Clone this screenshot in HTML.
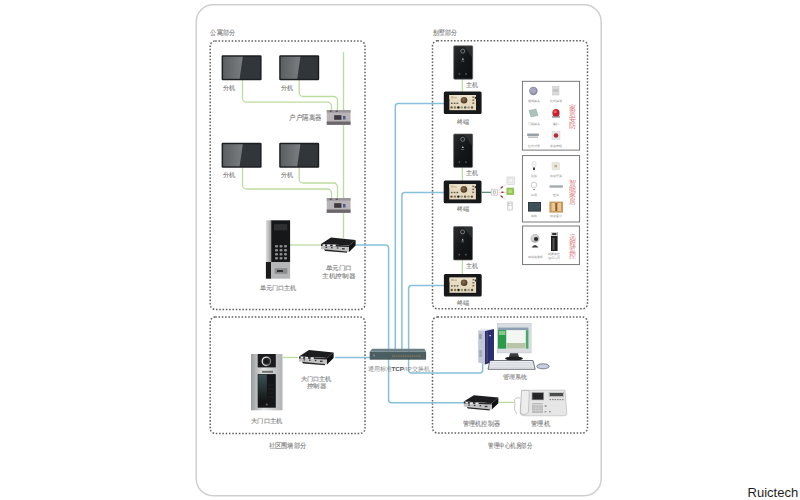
<!DOCTYPE html>
<html><head><meta charset="utf-8">
<style>
html,body{margin:0;padding:0;background:#fff;width:800px;height:500px;overflow:hidden}
svg{position:absolute;left:0;top:0}
text{font-family:"Liberation Sans",sans-serif}
.lb{font-size:6.3px;fill:#747474;stroke:#8a8a8a;stroke-width:0.1px}
.rt{position:absolute;left:747.6px;top:484.8px;font-family:"Liberation Sans",sans-serif;font-size:13px;color:#1e1e1e}
</style></head><body>
<svg width="800" height="500" viewBox="0 0 800 500">
<defs>
  <linearGradient id="scr" x1="0" y1="0" x2="1" y2="0">
    <stop offset="0" stop-color="#5a5f62"/><stop offset="1" stop-color="#7a7e80"/>
  </linearGradient>

  <symbol id="mon" viewBox="0 0 40 25" overflow="visible">
    <rect x="0" y="0" width="40" height="25" rx="1.2" fill="#1c1f21"/>
    <rect x="1.5" y="1.5" width="37" height="22" fill="#30363a"/>
    <path d="M1.5 1.5 H21.2 L18 23.5 H1.5 Z" fill="url(#scr)"/>
  </symbol>

  <linearGradient id="silv" x1="0" y1="0" x2="1" y2="0">
    <stop offset="0" stop-color="#9a9c9e"/><stop offset="0.4" stop-color="#e2e4e6"/><stop offset="0.75" stop-color="#c4c6c8"/><stop offset="1" stop-color="#b0b2b4"/>
  </linearGradient>
  <linearGradient id="silv2" x1="0" y1="0" x2="1" y2="0">
    <stop offset="0" stop-color="#e0e0e0"/><stop offset="1" stop-color="#9a9a9a"/>
  </linearGradient>
  <symbol id="iso" viewBox="0 0 24 15" overflow="visible">
    <rect x="0" y="0" width="23.8" height="14.8" fill="#b8b4b8"/>
    <rect x="0" y="0" width="23.8" height="2.6" fill="#9a969a"/>
    <rect x="0" y="11.5" width="23.8" height="3.3" fill="#6a666a"/>
    <rect x="7.4" y="5.2" width="7.3" height="4.6" fill="#3c3a40"/>
    <rect x="16.2" y="6" width="2.6" height="3.5" fill="#5a5a92"/>
    <rect x="3" y="0.6" width="2" height="1.4" fill="#5a565a"/>
    <rect x="9" y="0.6" width="2" height="1.4" fill="#5a565a"/>
  </symbol>
  <symbol id="ctl" viewBox="0 0 35 15" overflow="visible">
    <polygon points="0,6.4 10,0 34.6,2.4 28,8" fill="#1c1c1e"/>
    <polygon points="28,8 34.6,2.4 34.6,8 28,14.4" fill="#111113"/>
    <polygon points="0,6.4 28,8 28,14.4 0,11.4" fill="#c2c2c4"/>
    <polygon points="0,6.4 28,8 28,9.4 0,8.4" fill="#2a2a2c"/>
    <polygon points="3,11.8 26,14 26,15.2 4,13.4" fill="#2a2a2a"/>
    <g fill="#e8e8e8">
      <rect x="1.6" y="6.7" width="2.6" height="1.7" rx="0.5"/>
      <rect x="6" y="7" width="3.2" height="1.8" rx="0.5"/>
      <rect x="11.6" y="7.3" width="3.2" height="1.8" rx="0.5"/>
    </g>
    <g fill="#3a3a3a">
      <rect x="4.5" y="9.3" width="1.6" height="1.2"/>
      <rect x="10" y="9.6" width="1.6" height="1.2"/>
      <rect x="15.8" y="9.9" width="1.6" height="1.2"/>
      <rect x="21" y="10.6" width="2.6" height="1.4"/>
    </g>
  </symbol>

  <linearGradient id="vh" x1="0" y1="0" x2="1" y2="1">
    <stop offset="0" stop-color="#2a2c2e"/><stop offset="0.5" stop-color="#151617"/><stop offset="1" stop-color="#0e0f10"/>
  </linearGradient>
  <radialGradient id="brn" cx="0.4" cy="0.4" r="0.6">
    <stop offset="0" stop-color="#8a7050"/><stop offset="1" stop-color="#4a3a26"/>
  </radialGradient>
  <symbol id="vhost" viewBox="0 0 19 33.4" overflow="visible">
    <rect x="0" y="0" width="19" height="33.4" rx="1" fill="url(#vh)" stroke="#6a6c6e" stroke-width="0.7"/>
    <path d="M10 0.3 H18.7 V12 Z" fill="#3a3d40" opacity="0.6"/>
    <circle cx="9.1" cy="5.3" r="2" fill="none" stroke="#8a8c8e" stroke-width="0.8"/>
    <path d="M8.2 14 l1 -2 l1 2 z" fill="#cfcfcf"/>
    <rect x="7.6" y="15" width="3" height="0.6" fill="#888"/>
    <circle cx="5.8" cy="28.1" r="0.9" fill="#555"/>
    <circle cx="12.3" cy="28.1" r="0.9" fill="#555"/>
  </symbol>
  <symbol id="term" viewBox="0 0 37.8 22.6" overflow="visible">
    <rect x="0" y="0" width="37.8" height="22.6" rx="1.5" fill="#161819"/>
    <rect x="5.6" y="3.6" width="26.6" height="15.2" fill="#e6dac0"/>
    <rect x="5.6" y="3.6" width="26.6" height="4" fill="#ece2cc"/>
    <circle cx="20.2" cy="8.8" r="3.3" fill="url(#brn)"/>
    <g fill="#c8b494"><rect x="7" y="5" width="3" height="2"/><rect x="10.5" y="5.5" width="2.5" height="1.5"/></g>
    <g fill="#5a5448"><rect x="7.2" y="11.2" width="1.6" height="1.4"/><rect x="10" y="11.2" width="1.6" height="1.4"/><rect x="12.8" y="11.2" width="1.6" height="1.4"/></g>
    <g fill="#7a6a50"><rect x="28.6" y="5" width="1.8" height="1.5"/><rect x="28.6" y="8" width="1.8" height="1.5"/><rect x="28.6" y="11" width="1.8" height="1.5"/></g>
    <rect x="31" y="5.5" width="1.2" height="2" fill="#222"/>
    <circle cx="7.8" cy="16" r="1.2" fill="#6a5a40"/>
    <circle cx="11.2" cy="16" r="1.2" fill="#8a7050"/>
    <circle cx="14.6" cy="16" r="1.2" fill="#1e1a14"/>
    <circle cx="18" cy="16" r="1.2" fill="#8a9a70"/>
    <circle cx="21.4" cy="16" r="1.2" fill="#5a5a48"/>
    <circle cx="24.8" cy="16" r="1.2" fill="#9a9488"/>
    <circle cx="28.2" cy="16" r="1.2" fill="#6a5038"/>
  </symbol>
  <linearGradient id="disp" x1="0" y1="0" x2="0" y2="1">
    <stop offset="0" stop-color="#3c5056"/><stop offset="0.6" stop-color="#24302f"/><stop offset="1" stop-color="#151617"/>
  </linearGradient>
  <linearGradient id="ring" x1="0" y1="0" x2="1" y2="0.3">
    <stop offset="0" stop-color="#f0f0f0"/><stop offset="0.55" stop-color="#d8d8d8"/><stop offset="1" stop-color="#707070"/>
  </linearGradient>
</defs>
<!-- outer -->
<rect x="196.2" y="4.8" width="405" height="491" rx="17" fill="none" stroke="#cfcfcf" stroke-width="1.5"/>

<!-- dotted boxes -->
<g fill="none" stroke="#606060" stroke-width="1.5" stroke-dasharray="1.55 1.75">
  <rect x="210.2" y="41" width="154.8" height="268.4" rx="5"/>
  <rect x="210.2" y="317" width="154.8" height="116.4" rx="5"/>
  <rect x="432.5" y="40.8" width="155" height="268" rx="5"/>
  <rect x="432.5" y="317" width="155" height="116" rx="5"/>
</g>

<!-- labels -->

<!-- green lines -->
<g fill="none" stroke="#bcdb9e" stroke-width="1.3">
  <line x1="343.5" y1="52" x2="343.5" y2="238"/>
  <path d="M242.5 80 V98.2 a4 4 0 0 0 4 4 H327.5 a4 4 0 0 1 4 4 V111"/>
  <path d="M299.2 80 V92.5 a4 4 0 0 0 4 4 H333.5 a4 4 0 0 1 4 4 V111"/>
  <path d="M242.5 168 V185 a4 4 0 0 0 4 4 H327.5 a4 4 0 0 1 4 4 V199"/>
  <path d="M299.2 168 V179 a4 4 0 0 0 4 4 H333.5 a4 4 0 0 1 4 4 V199"/>
  <line x1="290" y1="245" x2="322" y2="245"/>
  <line x1="283" y1="357.5" x2="298" y2="357.5"/>
  <line x1="462.4" y1="79" x2="462.4" y2="92"/>
  <line x1="462.4" y1="167" x2="462.4" y2="181"/>
  <line x1="462.4" y1="259.6" x2="462.4" y2="274"/>
  <line x1="499" y1="402.4" x2="514" y2="402.4"/>
</g>

<!-- blue lines -->
<g fill="none" stroke="#86c0da" stroke-width="1.5">
  <path d="M356 245 H385.6 a3 3 0 0 1 3 3 V399.8 a3 3 0 0 0 3 3 H464"/>
  <path d="M395.3 349 V106.5 a3 3 0 0 1 3 -3 H444"/>
  <path d="M401.9 349 V195.4 a3 3 0 0 1 3 -3 H444"/>
  <path d="M408.6 349 V370 a3 3 0 0 0 3 3 H479.7 a3 3 0 0 0 3 -3 V364"/>
  <path d="M408.6 349 V288.6 a3 3 0 0 1 3 -3 H444"/>
  <line x1="335" y1="357.5" x2="370" y2="357.5"/>
</g>


<!-- labels -->
<g class="lb">
<text x="210.4" y="35.3" textLength="24.60" lengthAdjust="spacingAndGlyphs" style="font-size:7px">公寓部分</text>
<text x="433.1" y="35.4" textLength="24.00" lengthAdjust="spacingAndGlyphs" style="font-size:7px">别墅部分</text>
<text x="222.5" y="89.8" textLength="12.40" lengthAdjust="spacingAndGlyphs" style="font-size:6px">分机</text>
<text x="281.2" y="89.8" textLength="12.30" lengthAdjust="spacingAndGlyphs" style="font-size:6px">分机</text>
<text x="222.5" y="177.3" textLength="12.40" lengthAdjust="spacingAndGlyphs" style="font-size:6px">分机</text>
<text x="281.2" y="177.3" textLength="12.30" lengthAdjust="spacingAndGlyphs" style="font-size:6px">分机</text>
<text x="289.4" y="119.6" textLength="31.85" lengthAdjust="spacingAndGlyphs" style="font-size:7px">户户隔离器</text>
<text x="259.7" y="290.0" textLength="36.80" lengthAdjust="spacingAndGlyphs" style="font-size:6px">单元门口主机</text>
<text x="325.7" y="270.1" textLength="26.30" lengthAdjust="spacingAndGlyphs" style="font-size:6px">单元门口</text>
<text x="322.0" y="277.6" textLength="33.70" lengthAdjust="spacingAndGlyphs" style="font-size:6px">主机控制器</text>
<text x="300.5" y="381.0" textLength="31.00" lengthAdjust="spacingAndGlyphs" style="font-size:6px">大门口主机</text>
<text x="306.7" y="387.9" textLength="19.30" lengthAdjust="spacingAndGlyphs" style="font-size:6px">控制器</text>
<text x="251.0" y="422.9" textLength="31.60" lengthAdjust="spacingAndGlyphs" style="font-size:6px">大门口主机</text>
<text x="268.6" y="447.8" textLength="37.50" lengthAdjust="spacingAndGlyphs" style="font-size:7px">社区围墙部分</text>
<text x="488.3" y="447.8" textLength="43.80" lengthAdjust="spacingAndGlyphs" style="font-size:7px">管理中心机房部分</text>
<text x="502.5" y="379.2" textLength="24.00" lengthAdjust="spacingAndGlyphs" style="font-size:6px">管理系统</text>
<text x="463.3" y="426.2" textLength="36.40" lengthAdjust="spacingAndGlyphs" style="font-size:7px">管理机控制器</text>
<text x="531.3" y="426.2" textLength="18.60" lengthAdjust="spacingAndGlyphs" style="font-size:7px">管理机</text>
<text x="466.0" y="86.5" textLength="12.00" lengthAdjust="spacingAndGlyphs" style="font-size:6px">主机</text>
<text x="466.0" y="174.5" textLength="12.00" lengthAdjust="spacingAndGlyphs" style="font-size:6px">主机</text>
<text x="466.0" y="267.5" textLength="12.00" lengthAdjust="spacingAndGlyphs" style="font-size:6px">主机</text>
<text x="457.0" y="123.6" textLength="12.50" lengthAdjust="spacingAndGlyphs" style="font-size:6px">终端</text>
<text x="457.0" y="211.0" textLength="12.50" lengthAdjust="spacingAndGlyphs" style="font-size:6px">终端</text>
<text x="457.0" y="305.0" textLength="12.50" lengthAdjust="spacingAndGlyphs" style="font-size:6px">终端</text>
</g>
<!-- monitors -->
<use href="#mon" x="221.6" y="55.3" width="40" height="25"/>
<use href="#mon" x="279.2" y="55.3" width="40" height="25"/>
<use href="#mon" x="221.6" y="142.8" width="40" height="25"/>
<use href="#mon" x="279.2" y="142.8" width="40" height="25"/>

<!-- isolators -->
<use href="#iso" x="326.75" y="110" width="24" height="15"/>
<use href="#iso" x="326.75" y="198" width="24" height="15"/>

<!-- unit door station -->
<g>
  <rect x="265.9" y="220.3" width="5.4" height="41.7" fill="url(#silv2)"/>
  <rect x="265.9" y="262" width="5.4" height="16.7" fill="#1a1a1a"/>
  <rect x="271.2" y="220.3" width="18.9" height="41.7" fill="#161718"/>
  <rect x="274" y="224.1" width="13.3" height="6.3" fill="#2e3032"/>
  <rect x="271.2" y="262" width="18.9" height="16.7" fill="#b4b6b8"/>
  <rect x="274.7" y="268.2" width="12.6" height="5.6" fill="#8a8c8e"/>
  <rect x="277" y="270" width="6" height="2" fill="#333"/>
  <g fill="#8a8a8a">
    <rect x="275" y="245" width="3" height="2.6" rx="1"/><rect x="279.5" y="245" width="3" height="2.6" rx="1"/><rect x="284" y="245" width="3" height="2.6" rx="1"/>
    <rect x="275" y="249" width="3" height="2.6" rx="1"/><rect x="279.5" y="249" width="3" height="2.6" rx="1"/><rect x="284" y="249" width="3" height="2.6" rx="1"/>
    <rect x="275" y="253" width="3" height="2.6" rx="1"/><rect x="279.5" y="253" width="3" height="2.6" rx="1"/><rect x="284" y="253" width="3" height="2.6" rx="1"/>
    <rect x="275" y="257" width="3" height="2.6" rx="1"/><rect x="279.5" y="257" width="3" height="2.6" rx="1"/><rect x="284" y="257" width="3" height="2.6" rx="1"/>
  </g>
</g>

<!-- controllers -->
<use href="#ctl" x="321" y="237.5" width="35" height="15"/>
<use href="#ctl" x="299" y="350" width="35" height="15"/>
<use href="#ctl" x="463.8" y="395.2" width="35" height="15"/>

<!-- gate station -->
<g>
  <rect x="251" y="354" width="31.5" height="56.3" fill="url(#silv)"/>
  <rect x="257.7" y="354" width="18.1" height="13.4" fill="#1c1c1e"/>
  <circle cx="266.4" cy="361.3" r="4.2" fill="#2a2c2e" stroke="url(#ring)" stroke-width="1.3"/>
  <circle cx="266.4" cy="361.2" r="2.2" fill="#1a1a1a"/>
  <rect x="262" y="370.8" width="11" height="2" fill="#707274"/>
  <rect x="257.7" y="374.1" width="18.1" height="33.6" fill="#151617"/>
  <rect x="258.3" y="374.6" width="8.5" height="26" fill="url(#disp)"/><g fill="#3a3c3e"><circle cx="269" cy="385" r="0.6"/><circle cx="272" cy="385" r="0.6"/><circle cx="269" cy="389" r="0.6"/><circle cx="272" cy="389" r="0.6"/><circle cx="269" cy="393" r="0.6"/><circle cx="272" cy="393" r="0.6"/><circle cx="269" cy="397" r="0.6"/><circle cx="272" cy="397" r="0.6"/></g>
  <circle cx="266.7" cy="404.5" r="1" fill="#666"/>
</g>

<!-- switch -->
<g>
  <polygon points="372.3,348.7 424.4,348.7 426.1,351.8 369.7,351.8" fill="#6a8086"/>
  <rect x="369.7" y="351.8" width="56.4" height="7.9" fill="#4a5e62"/>
  <line x1="392" y1="356.2" x2="421" y2="356.2" stroke="#7a7458" stroke-width="1.8" stroke-dasharray="1.2 0.6"/><rect x="373" y="354.5" width="2" height="2" fill="#7a868a"/>
</g>
<text x="398.6" y="370.8" text-anchor="middle" style="font-size:6.25px;fill:#8a8a8a">通用标准<tspan style="font-weight:bold;fill:#555">TCP</tspan>/IP交换机</text>

<!-- villa hosts + terminals -->
<use href="#vhost" x="453.7" y="45.8" width="19" height="33.4"/>
<use href="#vhost" x="453.6" y="134" width="19" height="33.4"/>
<use href="#vhost" x="453.5" y="226.6" width="19" height="33.4"/>
<use href="#term" x="443.8" y="91.4" width="37.8" height="22.6"/>
<use href="#term" x="443.7" y="180.6" width="37.8" height="22.6"/>
<use href="#term" x="443.9" y="274" width="37.8" height="22.6"/>

<!-- smart home relay -->
<line x1="481.6" y1="192.3" x2="491" y2="192.3" stroke="#3f7d55" stroke-width="1.1"/>
<rect x="491.2" y="189.2" width="6.4" height="6" fill="#f4f4f4" stroke="#b8b8b8" stroke-width="0.6"/>
<rect x="493.2" y="191" width="2.4" height="2.4" fill="none" stroke="#999" stroke-width="0.5"/>
<g stroke="#f0c4cc" stroke-width="0.9" fill="none">
  <line x1="498.5" y1="190.5" x2="505.5" y2="184.5"/>
  <line x1="498.5" y1="192.3" x2="506.5" y2="192.3"/>
  <line x1="498.5" y1="194" x2="505.5" y2="199.5"/>
</g>
<g fill="#8a3a48">
  <ellipse cx="501.8" cy="187.4" rx="1.4" ry="0.8" transform="rotate(-35 501.8 187.4)"/>
  <ellipse cx="502.4" cy="192.3" rx="1.4" ry="0.8"/>
  <ellipse cx="501.8" cy="196.6" rx="1.4" ry="0.8" transform="rotate(35 501.8 196.6)"/>
</g>
<rect x="507" y="177" width="7.3" height="7.3" fill="#f2f2f2" stroke="#c8c8c8" stroke-width="0.6"/>
<rect x="508.5" y="178.5" width="4.3" height="4.3" fill="none" stroke="#dadada" stroke-width="0.5"/>
<rect x="506.5" y="187.7" width="7.5" height="7.2" fill="#8fc450"/>
<rect x="508.3" y="189.5" width="3.8" height="3.5" fill="#b6dc80"/>
<rect x="507.8" y="202" width="4.4" height="8" fill="#fafafa" stroke="#b0b0b0" stroke-width="0.6"/>
<rect x="508.8" y="203.3" width="2.4" height="2.5" fill="none" stroke="#aaa" stroke-width="0.4"/>

<!-- side panels -->
<g fill="none" stroke="#6a6a6a" stroke-width="0.9">
  <rect x="522.4" y="81.3" width="57.2" height="68.8"/>
  <rect x="522.4" y="155.6" width="57.2" height="66.4"/>
  <rect x="522.6" y="226" width="56.8" height="38.6"/>
</g>
<g style="font-size:7px;fill:#d87878" text-anchor="middle">
  <text x="572.8" y="109.7">家</text><text x="572.8" y="115.9">居</text><text x="572.8" y="122.1">安</text><text x="572.8" y="128.3">防</text>
  <text x="572.8" y="184.6">智</text><text x="572.8" y="191">能</text><text x="572.8" y="197.4">家</text><text x="572.8" y="203.8">居</text>
  <text x="572.6" y="239.8">远</text><text x="572.6" y="246">程</text><text x="572.6" y="252.2">监</text><text x="572.6" y="258.4">控</text>
</g>
<g style="font-size:3.4px;fill:#8a8a8a" text-anchor="middle">
  <text x="533.5" y="102">烟感探头</text><text x="556" y="102">红外探测</text>
  <text x="533.5" y="124.5">门磁探头</text><text x="556" y="124.5">警灯</text>
  <text x="533.5" y="146.8">红外对射</text><text x="556" y="146.8">紧急按钮</text>
  <text x="534" y="176.5">照明</text><text x="556" y="176.5">电动开关</text>
  <text x="534" y="196">风扇</text><text x="556" y="196">空调</text>
  <text x="534" y="217.3">电视</text><text x="556" y="217.3">电动窗帘</text>
  <text x="535" y="257.5">网络摄像机</text>
</g>
<!-- security icons -->
<circle cx="533.4" cy="91" r="4.2" fill="#8a88a8"/>
<circle cx="533" cy="90.5" r="3" fill="#a8a6c0"/>
<rect x="552.5" y="86.5" width="6.5" height="8.5" fill="#dcdcdc" stroke="#bbb" stroke-width="0.4"/>
<rect x="553.2" y="89" width="5" height="3" fill="#c4c4c4"/>
<polygon points="529,110.5 536,109 538,115.5 531,117" fill="#a8c4bc" stroke="#8a9a98" stroke-width="0.4"/>
<ellipse cx="556" cy="113" rx="3.6" ry="4" fill="#c8202a"/>
<ellipse cx="555.2" cy="111.8" rx="1.6" ry="1.5" fill="#e86060"/>
<rect x="552" y="116.3" width="8" height="1.3" fill="#888"/>
<rect x="527" y="133.5" width="12" height="2.5" rx="1" fill="#9aa0a8"/>
<rect x="528" y="136.4" width="10" height="1.6" fill="#c0c4c8"/>
<rect x="552" y="131.5" width="8" height="8" fill="#e8e8e8" stroke="#ccc" stroke-width="0.4"/>
<circle cx="556" cy="135.5" r="2.3" fill="#b03038"/>
<!-- smart icons -->
<ellipse cx="534" cy="164.5" rx="2.2" ry="3.2" fill="#f2f2f2" stroke="#ccc" stroke-width="0.4"/>
<rect x="533" y="167.5" width="2" height="2.6" fill="#444"/>
<rect x="552" y="162.3" width="7.5" height="7.5" rx="1.2" fill="#ece8dc" stroke="#ccc" stroke-width="0.4"/>
<rect x="554.5" y="164.8" width="2.5" height="2.5" fill="#b8ad90"/>
<circle cx="534" cy="185" r="2.8" fill="none" stroke="#aaa" stroke-width="0.6"/>
<rect x="533" y="189.2" width="2" height="0.8" fill="#777"/>
<rect x="549.4" y="185.2" width="13.6" height="2.6" rx="0.8" fill="#a8aeb4"/>
<rect x="528" y="202" width="13" height="9.6" fill="#2c3a42"/>
<rect x="529" y="203" width="11" height="7.6" fill="#405058"/>
<rect x="549.4" y="201.6" width="13.6" height="11" fill="#c89860"/>
<rect x="551.5" y="203" width="9.5" height="8" fill="#e8c890"/>
<rect x="555.3" y="203" width="2" height="8" fill="#8a5a30"/>
<!-- remote -->
<path d="M531.5 247.5 q3.5 -5 7 0 z" fill="#3a3a3a"/>
<circle cx="535" cy="238.5" r="4.4" fill="#b4b4b4"/>
<circle cx="534.4" cy="237.6" r="3.2" fill="#d4d4d4"/>
<circle cx="536" cy="239" r="2.1" fill="#2a2a2a"/>
<rect x="551" y="232" width="6.6" height="19" fill="#1e1e1e"/>
<rect x="551" y="232" width="6.6" height="4" fill="#d0d0d0"/>
<rect x="552.2" y="233" width="4.2" height="2" fill="#333"/>
<rect x="552.5" y="238" width="2" height="12" fill="#555"/>
<text x="554.3" y="254.5" style="font-size:3.2px;fill:#888" text-anchor="middle">视频监控</text>
<text x="554.3" y="258.5" style="font-size:3.2px;fill:#888" text-anchor="middle">远程访问</text>

<!-- management computer -->
<g>
  <!-- tower -->
  <polygon points="478.2,330.5 482,328.5 494,329 485,331" fill="#e8eaf0"/>
  <polygon points="478.2,330.5 485,331 485,364.5 478.2,362.5" fill="#c4c8d4"/>
  <polygon points="485,331 494,329 494,361.5 485,364.5" fill="#2c2f6e"/>
  <rect x="486.5" y="332" width="1.2" height="30" fill="#4a4e8a"/>
  <rect x="479.2" y="334" width="2.5" height="5" fill="#9aa0b0"/>
  <rect x="479.2" y="350" width="3" height="7" fill="#a4a8b8"/>
  <rect x="489.5" y="335" width="1.2" height="1.2" fill="#fff"/>
  <!-- monitor -->
  <rect x="497" y="323.2" width="34.5" height="30" fill="#c4c8d0"/>
  <rect x="497.6" y="323.8" width="33.3" height="28.8" fill="#dadde2"/>
  <rect x="498" y="327.5" width="30.5" height="21.2" fill="#f4f6f4"/>
  <rect x="498" y="327.5" width="30.5" height="2.6" fill="#8aa0b0"/>
  <rect x="498" y="330.1" width="8.2" height="18.6" fill="#2a9a4a"/>
  <rect x="498.8" y="331" width="6.6" height="4" fill="#88c890"/>
  <rect x="525.8" y="330.1" width="2.7" height="18.6" fill="#4aa86a"/>
  <rect x="506.5" y="343" width="19" height="5.5" fill="#b8c4a8"/>
  <polygon points="510,353.2 518,353.2 519,357 509,357" fill="#3a3c40"/>
  <ellipse cx="514" cy="358.5" rx="9" ry="2" fill="#1e2024"/>
  <!-- keyboard -->
  <polygon points="490,360.5 533,360.5 535.2,369.3 488,369.3" fill="#eceef2" stroke="#3a3e48" stroke-width="0.7"/>
  <g stroke="#b0b4bc" stroke-width="0.5">
    <line x1="491" y1="362.8" x2="533" y2="362.8"/>
    <line x1="490" y1="365" x2="534" y2="365"/>
    <line x1="489" y1="367.2" x2="534.5" y2="367.2"/>
  </g>
  <!-- mouse -->
  <ellipse cx="543" cy="366.3" rx="6.2" ry="2.5" fill="#c8cee0" stroke="#3a3e58" stroke-width="0.6"/>
</g>

<!-- management phone -->
<g>
  <path d="M522 390.2 H565 L566.8 413 Q566.8 415.8 564 415.8 H524 Q520 415.8 520 412 Z" fill="#e6e6e6" stroke="#b4b4b4" stroke-width="0.6"/>
  <path d="M521.5 390.5 H528.5 Q529.5 391 529.3 393 L528.5 412 Q527 415 523 414.5 L520.5 413 Z" fill="#ededed" stroke="#a8a8a8" stroke-width="0.6"/>
  <rect x="531.6" y="392.2" width="12.4" height="8" fill="#9c9c9c"/>
  <rect x="532.4" y="392.9" width="10.8" height="6.6" fill="#262628"/>
  <rect x="549.6" y="393" width="13.6" height="3.2" fill="#4a4e4e"/>
  <rect x="549" y="392.3" width="14.8" height="4.6" fill="none" stroke="#aaa" stroke-width="0.5"/>
  <g fill="#8a8a8a">
    <rect x="549.5" y="399" width="1.6" height="1.2"/><rect x="552" y="399" width="1.6" height="1.2"/><rect x="554.5" y="399" width="1.6" height="1.2"/>
    <rect x="557" y="399" width="1.6" height="1.2"/><rect x="559.5" y="399" width="1.6" height="1.2"/><rect x="562" y="399" width="1.6" height="1.2"/>
  </g>
  <rect x="532.3" y="405.8" width="10.4" height="7" fill="#bcbcbe" stroke="#a8a8a8" stroke-width="0.4"/>
  <g stroke="#dedede" stroke-width="0.45"><line x1="532.3" y1="408.1" x2="542.7" y2="408.1"/><line x1="532.3" y1="410.4" x2="542.7" y2="410.4"/><line x1="535.8" y1="405.8" x2="535.8" y2="412.8"/><line x1="539.2" y1="405.8" x2="539.2" y2="412.8"/></g>
  <rect x="532.3" y="403.3" width="10.4" height="1" fill="#a8a8a8"/>
  <circle cx="545.6" cy="406" r="1.1" fill="#999"/>
  <rect x="544.6" y="411" width="1.8" height="1.4" fill="#999"/><rect x="549" y="411" width="1.8" height="1.4" fill="#999"/>
  <path d="M520 398 Q514 397 514.5 401 Q515.5 404 514.5 407 Q514 411 517 414" fill="none" stroke="#bcbcbc" stroke-width="0.9"/>
</g>
</svg>
<div class="rt">Ruictech</div>
</body></html>
